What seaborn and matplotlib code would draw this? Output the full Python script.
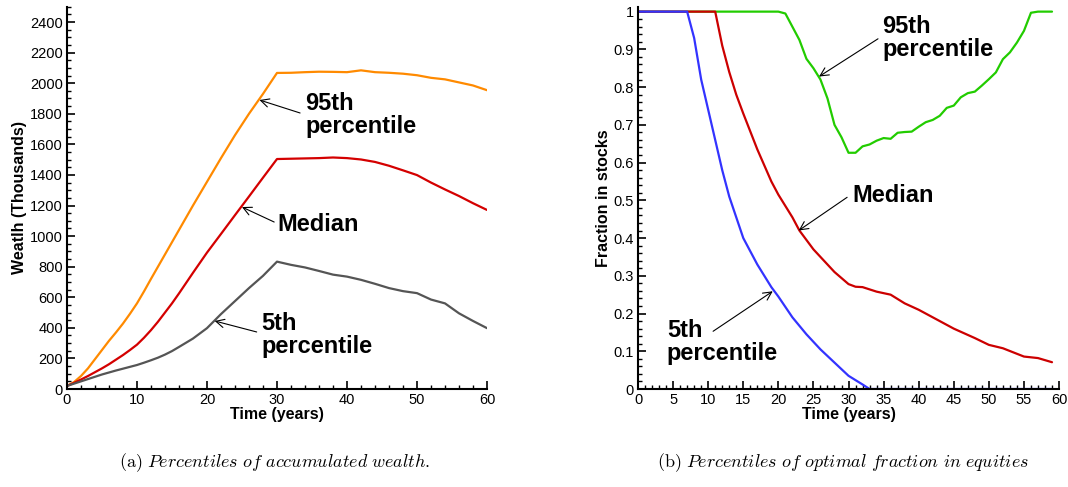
import numpy as np
import pandas as pd
import matplotlib
matplotlib.use('Agg')
import matplotlib.pyplot as plt
from matplotlib.ticker import MultipleLocator
import seaborn as sns

# ---- data ----
# (a) wealth percentiles (thousands)
wealth_t = [0, 1, 2, 3, 4, 5, 6, 7, 8, 9, 10, 11, 12, 13, 14, 15, 16, 18, 20, 22, 24, 26, 28, 30,
            32, 34, 36, 38, 40, 42, 44, 46, 48, 50, 52, 54, 56, 58, 60]
wealth_p95 = [20, 45, 85, 135, 195, 255, 315, 370, 428, 492, 560, 638, 720, 800, 880, 960, 1040, 1200, 1355,
              1510, 1660, 1800, 1930, 2067,
              2068, 2072, 2075, 2074, 2072, 2084, 2072, 2068, 2062, 2052, 2035, 2025, 2005, 1985, 1954]
wealth_med = [20, 40, 62, 85, 110, 135, 162, 192, 222, 255, 290, 335, 385, 440, 500, 560, 625, 760, 892, 1014,
              1137, 1259, 1382, 1504,
              1506, 1508, 1510, 1514, 1510, 1501, 1485, 1460, 1430, 1399, 1350, 1305, 1262, 1215, 1171]
wealth_p5 = [20, 35, 50, 65, 80, 95, 108, 121, 133, 145, 157, 172, 188, 205, 225, 248, 275, 330, 398, 490,
             575, 660, 740, 833,
             812, 795, 772, 748, 735, 714, 688, 660, 640, 627, 585, 560, 495, 445, 398]

# (b) fraction in stocks
frac_t_low = [0, 7, 8, 9, 10, 11, 12, 13, 15, 17, 19, 20, 22, 24, 26, 28, 30, 32, 33, 59]
frac_p5 = [1, 1, 0.93, 0.82, 0.74, 0.66, 0.58, 0.51, 0.40, 0.33, 0.27, 0.245, 0.19, 0.145, 0.105, 0.07, 0.035,
           0.012, 0.0, 0.0]

frac_t_med = [0, 11, 12, 13, 14, 15, 17, 19, 20, 22, 23, 25, 27, 28, 30, 31, 32, 34, 36, 38, 40, 43, 45, 48, 50,
              52, 55, 57, 59]
frac_med = [1, 1, 0.91, 0.84, 0.78, 0.73, 0.635, 0.55, 0.515, 0.455, 0.42, 0.37, 0.33, 0.31, 0.278, 0.271, 0.27,
            0.258, 0.25, 0.227, 0.21, 0.18, 0.16, 0.135, 0.117, 0.108, 0.086, 0.082, 0.071]

frac_t_hi = [0, 20, 21, 22, 23, 24, 25, 26, 27, 28, 29, 30, 31, 32, 33, 34, 35, 36, 37, 38, 39, 40, 41, 42, 43,
             44, 45, 46, 47, 48, 49, 50, 51, 52, 53, 54, 55, 56, 57, 59]
frac_p95 = [1, 1, 0.995, 0.96, 0.925, 0.875, 0.85, 0.82, 0.77, 0.70, 0.667, 0.626, 0.626, 0.643, 0.648, 0.658,
            0.665, 0.663, 0.679, 0.681, 0.682, 0.695, 0.707, 0.713, 0.724, 0.745, 0.751, 0.773, 0.784, 0.788,
            0.804, 0.821, 0.839, 0.874, 0.892, 0.918, 0.949, 0.997, 1.0, 1.0]

sns.set_style('ticks')
plt.rcParams['font.family'] = ['Liberation Sans', 'DejaVu Sans']
plt.rcParams['mathtext.fontset'] = 'cm'
plt.rcParams['text.color'] = 'black'
plt.rcParams['axes.labelcolor'] = 'black'

fig = plt.figure(figsize=(10.68, 4.87), dpi=100)
ax1 = fig.add_axes([0.0627, 0.2012, 0.3933, 0.785])
ax2 = fig.add_axes([0.5974, 0.2012, 0.3942, 0.785])


def style_axis(ax):
    for side in ['top', 'right']:
        ax.spines[side].set_visible(False)
    for side in ['left', 'bottom']:
        ax.spines[side].set_linewidth(1.5)
        ax.spines[side].set_color('black')
    ax.tick_params(which='major', direction='in', length=6, width=1.2, labelsize=10.5, colors='black', pad=3)
    ax.tick_params(which='minor', direction='in', length=3, width=1.0, colors='black')


arrow = dict(arrowstyle='->', color='black', lw=0.8, shrinkA=0, shrinkB=0, mutation_scale=15)
ann_font = dict(fontsize=17, fontweight='bold', ha='left', va='center', linespacing=1.0)

# ---- (a) accumulated wealth ----
sns.lineplot(x=wealth_t, y=wealth_p95, ax=ax1, color='#ff8a00', lw=1.6)
sns.lineplot(x=wealth_t, y=wealth_med, ax=ax1, color='#d40000', lw=1.6)
sns.lineplot(x=wealth_t, y=wealth_p5, ax=ax1, color='#555555', lw=1.6)
ax1.set_xlim(0, 60)
ax1.set_ylim(0, 2500)
ax1.xaxis.set_major_locator(MultipleLocator(10))
ax1.xaxis.set_minor_locator(MultipleLocator(2))
ax1.set_yticks(range(0, 2401, 200))
ax1.yaxis.set_minor_locator(MultipleLocator(50))
style_axis(ax1)
ax1.set_xlabel('Time (years)', fontsize=11.5, fontweight='bold', labelpad=0)
ax1.set_ylabel('Weatlh (Thousands)', fontsize=11.5, fontweight='bold', labelpad=2)

ax1.annotate('', xy=(27.5, 1890), xytext=(33.3, 1805), arrowprops=arrow)
ax1.text(34, 1790, '95th\npercentile', **ann_font)
ax1.annotate('', xy=(25, 1190), xytext=(29.6, 1092), arrowprops=arrow)
ax1.text(30, 1079, 'Median', **ann_font)
ax1.annotate('', xy=(21.1, 445), xytext=(27.1, 373), arrowprops=arrow)
ax1.text(27.8, 353, '5th\npercentile', **ann_font)

# ---- (b) fraction in equities ----
sns.lineplot(x=frac_t_hi, y=frac_p95, ax=ax2, color='#22cc00', lw=1.6)
sns.lineplot(x=frac_t_med, y=frac_med, ax=ax2, color='#cc0000', lw=1.6)
sns.lineplot(x=frac_t_low, y=frac_p5, ax=ax2, color='#3333ff', lw=1.6)
ax2.set_xlim(0, 60)
ax2.set_ylim(0, 1.013)
ax2.xaxis.set_major_locator(MultipleLocator(5))
ax2.xaxis.set_minor_locator(MultipleLocator(1))
ax2.set_yticks(np.arange(0, 1.001, 0.1))
ax2.set_yticklabels(['0', '0.1', '0.2', '0.3', '0.4', '0.5', '0.6', '0.7', '0.8', '0.9', '1'])
ax2.yaxis.set_minor_locator(MultipleLocator(0.02))
style_axis(ax2)
ax2.set_xlabel('Time (years)', fontsize=11.5, fontweight='bold', labelpad=0)
ax2.set_ylabel('Fraction in stocks', fontsize=11.5, fontweight='bold', labelpad=2)

ax2.annotate('', xy=(25.8, 0.828), xytext=(34.2, 0.928), arrowprops=arrow)
ax2.text(34.8, 0.931, '95th\npercentile', **ann_font)
ax2.annotate('', xy=(22.9, 0.42), xytext=(29.8, 0.508), arrowprops=arrow)
ax2.text(30.5, 0.513, 'Median', **ann_font)
ax2.annotate('', xy=(19.2, 0.259), xytext=(10.7, 0.153), arrowprops=arrow)
ax2.text(4.1, 0.125, '5th\npercentile', **ann_font)

# ---- captions ----
fig.text(0.2575, 0.049, r'$\mathrm{(a)}\ \mathit{Percentiles\ of\ accumulated\ wealth.}$',
         ha='center', va='center', fontsize=13)
fig.text(0.789, 0.049, r'$\mathrm{(b)}\ \mathit{Percentiles\ of\ optimal\ fraction\ in\ equities}$',
         ha='center', va='center', fontsize=13)

fig.savefig('out.png', dpi=100, facecolor='white')
